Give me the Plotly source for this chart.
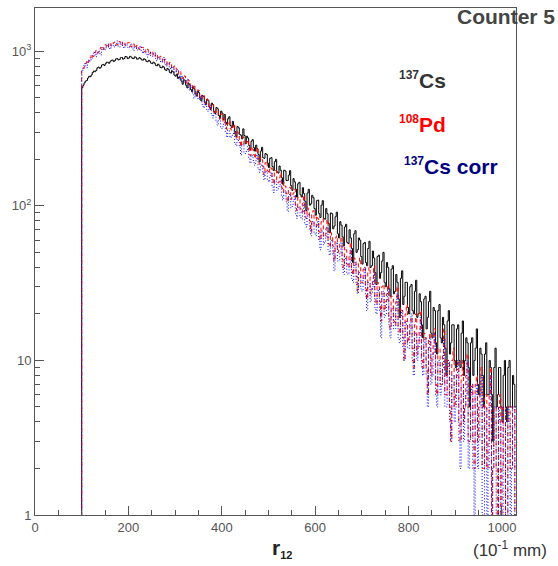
import numpy as np
import plotly.graph_objects as go

# histogram bins: left edges 100, 102.5, ..., 1027.5 (units of 0.1 mm)
bin_start = 100
bin_width = 2.5
x_max = 1030

cs137 = [580, 603, 625, 641, 648, 671, 690, 684, 702, 729, 745, 738, 752, 781, 790, 776, 788, 816, 822, 810,
         830, 851, 848, 836, 856, 874, 878, 859, 870, 893, 897, 879, 884, 909, 912, 889, 898, 925, 921, 896,
         905, 928, 918, 901, 896, 921, 914, 889, 893, 910, 899, 880, 876, 894, 884, 861, 856, 874, 862, 838,
         832, 851, 838, 812, 805, 826, 812, 786, 782, 801, 790, 760, 752, 775, 761, 731, 722, 746, 735, 701,
         690, 712, 668, 681, 672, 641, 612, 655, 648, 603, 580, 622, 606, 566, 548, 590, 571, 531, 514, 552,
         540, 497, 478, 518, 509, 468, 452, 491, 480, 436, 421, 462, 452, 409, 396, 433, 425, 384, 371, 410,
         398, 362, 390, 348, 337, 366, 377, 331, 322, 352, 329, 303, 281, 326, 320, 290, 286, 271, 315, 285,
         252, 282, 275, 246, 231, 262, 268, 238, 226, 247, 234, 215, 193, 226, 239, 205, 203, 218, 215, 189,
         177, 203, 205, 180, 169, 193, 200, 166, 163, 181, 170, 152, 138, 170, 168, 146, 146, 158, 169, 135,
         126, 150, 143, 128, 114, 139, 142, 118, 114, 131, 120, 107, 93, 121, 128, 101, 103, 117, 113, 96,
         87, 108, 109, 89, 84, 101, 108, 83, 82, 96, 89, 77, 67, 90, 89, 71, 74, 85, 91, 66,
         62, 79, 75, 63, 55, 73, 76, 58, 57, 70, 62, 53, 43, 66, 69, 50, 52, 62, 60, 47,
         42, 57, 58, 43, 41, 53, 59, 40, 41, 51, 46, 37, 31, 47, 48, 34, 37, 44, 50, 32,
         30, 43, 40, 29, 26, 39, 41, 27, 28, 36, 32, 25, 19, 34, 38, 23, 26, 32, 32, 22,
         20, 30, 31, 21, 20, 28, 33, 19, 20, 27, 24, 17, 14, 25, 26, 16, 19, 24, 28, 15,
         14, 22, 21, 13, 11, 21, 23, 14, 13, 19, 17, 12, 8, 18, 21, 11, 13, 17, 17, 10,
         9, 16, 17, 10, 9, 15, 18, 8, 10, 14, 13, 9, 5, 13, 14, 8, 10, 12, 16, 7,
         6, 12, 11, 8, 5, 11, 13, 6, 6, 10, 9, 6, 3, 9, 12, 5, 6, 9, 9, 5,
         4, 8, 10, 5, 4, 9, 10, 5, 5, 8, 7, 5]

pd108 = [760, 781, 795, 834, 872, 851, 868, 907, 948, 921, 932, 978, 1010, 972, 988, 1036, 1058, 1019, 1031, 1079,
         1102, 1056, 1068, 1111, 1132, 1083, 1089, 1136, 1148, 1096, 1101, 1145, 1158, 1098, 1104, 1150, 1149, 1093, 1090, 1133,
         1138, 1080, 1071, 1112, 1116, 1058, 1049, 1091, 1090, 1031, 1022, 1063, 1058, 1001, 991, 1034, 1030, 970, 960, 1000,
         992, 935, 924, 966, 957, 897, 888, 928, 916, 857, 848, 889, 876, 815, 807, 846, 835, 776, 768, 803,
         792, 736, 718, 750, 738, 681, 668, 700, 689, 634, 618, 652, 640, 588, 574, 606, 595, 545, 531, 562,
         556, 506, 493, 524, 518, 469, 458, 487, 482, 435, 424, 454, 449, 403, 394, 421, 417, 374, 366, 393,
         389, 348, 371, 336, 313, 342, 353, 316, 308, 322, 338, 292, 275, 301, 288, 268, 242, 276, 278, 249,
         249, 258, 266, 230, 212, 241, 233, 214, 203, 222, 238, 198, 186, 206, 199, 180, 159, 190, 194, 168,
         162, 178, 175, 152, 138, 164, 169, 143, 141, 152, 164, 131, 123, 141, 134, 120, 106, 131, 132, 110,
         114, 121, 128, 101, 93, 113, 110, 96, 91, 104, 117, 88, 83, 97, 94, 80, 68, 90, 93, 74,
         73, 86, 83, 68, 60, 79, 82, 63, 64, 71, 81, 57, 54, 67, 63, 55, 44, 62, 64, 50,
         52, 57, 63, 45, 40, 54, 52, 42, 40, 49, 58, 38, 36, 46, 44, 35, 28, 43, 46, 32,
         32, 39, 40, 29, 25, 37, 40, 27, 29, 34, 41, 25, 23, 32, 30, 24, 18, 30, 31, 21,
         24, 27, 31, 19, 16, 26, 25, 18, 17, 24, 30, 16, 15, 22, 21, 14, 10, 20, 23, 13,
         14, 18, 19, 12, 9, 17, 20, 11, 13, 16, 21, 10, 9, 15, 14, 9, 6, 14, 15, 8,
         11, 13, 16, 7, 6, 12, 12, 7, 7, 11, 16, 6, 6, 10, 10, 5, 3, 10, 12, 5,
         6, 9, 10, 4, 3, 8, 10, 4, 5, 8, 11, 3, 3, 7, 7, 3, 2, 7, 8, 3,
         5, 6, 9, 2, 2, 6, 6, 2, 3, 6, 9, 1, 2, 5, 5, 2, 0, 5, 6, 1,
         2, 5, 5, 0, 1, 5, 5, 2, 2, 5, 5, 1]

cs137_corr = [748, 771, 833, 805, 784, 846, 882, 861, 898, 940, 991, 950, 923, 985, 1007, 968, 946, 1030, 1061, 1015,
              1030, 1082, 1115, 1048, 1032, 1101, 1095, 1063, 1072, 1125, 1167, 1080, 1066, 1120, 1131, 1075, 1048, 1112, 1104, 1061,
              1053, 1098, 1119, 1040, 1008, 1077, 1067, 1016, 1029, 1061, 1082, 992, 971, 1030, 1017, 958, 917, 988, 993, 935,
              928, 962, 978, 899, 869, 915, 898, 858, 848, 881, 911, 822, 801, 840, 839, 780, 752, 796, 785, 734,
              730, 757, 762, 690, 651, 697, 680, 630, 633, 644, 660, 584, 561, 598, 583, 536, 497, 548, 545, 494,
              487, 505, 516, 452, 431, 470, 447, 420, 409, 431, 448, 384, 370, 398, 393, 352, 332, 365, 354, 322,
              316, 337, 345, 301, 278, 309, 305, 276, 280, 287, 305, 256, 245, 270, 265, 238, 213, 247, 251, 222,
              218, 229, 242, 203, 189, 213, 205, 190, 183, 196, 214, 173, 165, 181, 185, 160, 147, 168, 165, 148,
              143, 157, 165, 134, 122, 145, 143, 126, 129, 134, 147, 115, 109, 124, 125, 106, 92, 115, 119, 97,
              99, 107, 117, 89, 83, 99, 95, 84, 82, 91, 105, 76, 73, 86, 88, 70, 64, 79, 78, 66,
              64, 74, 80, 59, 52, 69, 68, 56, 59, 63, 73, 51, 48, 59, 60, 48, 38, 55, 58, 44,
              44, 50, 58, 40, 36, 47, 45, 37, 36, 43, 53, 34, 32, 40, 43, 31, 27, 37, 37, 29,
              28, 34, 40, 26, 21, 32, 32, 24, 27, 30, 37, 22, 20, 28, 29, 21, 14, 26, 28, 19,
              20, 24, 29, 17, 14, 22, 21, 16, 16, 21, 27, 14, 13, 19, 21, 12, 10, 18, 17, 12,
              12, 16, 20, 10, 8, 15, 15, 10, 12, 14, 19, 9, 8, 13, 14, 8, 5, 12, 14, 7,
              8, 11, 15, 6, 5, 10, 10, 6, 7, 9, 14, 5, 5, 9, 10, 4, 3, 8, 8, 4,
              5, 8, 10, 3, 2, 7, 7, 3, 5, 6, 10, 2, 3, 6, 7, 2, 1, 6, 7, 2,
              3, 5, 8, 1, 1, 5, 5, 1, 2, 5, 8, 0, 2, 5, 5, 1, 1, 5, 4, 0,
              1, 5, 5, 0, 0, 5, 4, 1, 2, 5, 5, 0]

y_ticks = [1, 10, 100, 1000]
y_ticktext = ["1", "10", "10<sup>2</sup>", "10<sup>3</sup>"]
x_ticks = [0, 200, 400, 600, 800, 1000]

FLOOR = 0.1  # empty bins drawn below the visible range (log scale)


def step_xy(vals):
    n = len(vals)
    edges = bin_start + bin_width * np.arange(n)
    disp = [v if v > 0 else FLOOR for v in vals]
    xs = [bin_start] + list(edges) + [bin_start + bin_width * n]
    ys = [FLOOR] + disp + [disp[-1]]
    return xs, ys


fig = go.Figure()
for vals, color, dash in [(cs137, "#000000", "solid"),
                          (pd108, "#ff0000", "4px,3px"),
                          (cs137_corr, "#0000ff", "1px,2px")]:
    xs, ys = step_xy(vals)
    fig.add_trace(go.Scatter(x=xs, y=ys, mode="lines", line_shape="hv",
                             line=dict(color=color, width=1, dash=dash),
                             showlegend=False, hoverinfo="skip"))

axis_col = "#555555"
minor_y = [m * 10 ** d for d in range(0, 4) for m in range(2, 10) if m * 10 ** d < 1900]

fig.update_layout(
    width=558, height=566, autosize=False,
    margin=dict(l=35, r=42, t=8, b=51),
    paper_bgcolor="white", plot_bgcolor="white",
    font=dict(family="Liberation Sans, Arial, sans-serif"),
    xaxis=dict(range=[0, x_max], tickmode="array", tickvals=x_ticks,
               ticks="inside", ticklen=9, tickwidth=1, tickcolor=axis_col,
               minor=dict(ticks="inside", ticklen=5, tickwidth=1, tickcolor=axis_col,
                          tick0=0, dtick=50),
               showline=True, linecolor=axis_col, linewidth=1, mirror=True,
               showgrid=False, zeroline=False,
               tickfont=dict(size=13, color="#555555")),
    yaxis=dict(type="log", range=[0, 3.28], tickmode="array", tickvals=y_ticks,
               ticktext=y_ticktext,
               ticks="inside", ticklen=9, tickwidth=1, tickcolor=axis_col,
               minor=dict(ticks="inside", ticklen=5, tickwidth=1, tickcolor=axis_col,
                          tickmode="array", tickvals=minor_y),
               showline=True, linecolor=axis_col, linewidth=1, mirror=True,
               showgrid=False, zeroline=False,
               tickfont=dict(size=13, color="#555555")),
)


def px_x(p):
    return (p - 35) / 481.0


def px_y(p):
    return (515 - p) / 507.0


sup = '<sup><span style="font-size:12px">{}</span></sup>'
annots = [
    dict(text="<b>Counter 5</b>", x=px_x(557), y=px_y(17), xanchor="right", yanchor="middle",
         font=dict(size=21, color="#444444")),
    dict(text="<b>" + sup.format("137") + "Cs</b>", x=px_x(397), y=px_y(80), xanchor="left",
         yanchor="middle", font=dict(size=21, color="#333333")),
    dict(text="<b>" + sup.format("108") + "Pd</b>", x=px_x(397), y=px_y(124), xanchor="left",
         yanchor="middle", font=dict(size=21, color="#ff0000")),
    dict(text="<b>" + sup.format("137") + "Cs corr</b>", x=px_x(402), y=px_y(166), xanchor="left",
         yanchor="middle", font=dict(size=21, color="#000080")),
    dict(text='<b>r<sub><span style="font-size:11px">12</span></sub></b>', x=px_x(270), y=px_y(548),
         xanchor="left", yanchor="middle", font=dict(size=21, color="#222222")),
    dict(text="(10<sup>-1</sup> mm)", x=px_x(471), y=px_y(549), xanchor="left", yanchor="middle",
         font=dict(size=17, color="#333333")),
]
for a in annots:
    a.update(xref="paper", yref="paper", showarrow=False)
fig.update_layout(annotations=annots)

fig.write_html("out.html")
